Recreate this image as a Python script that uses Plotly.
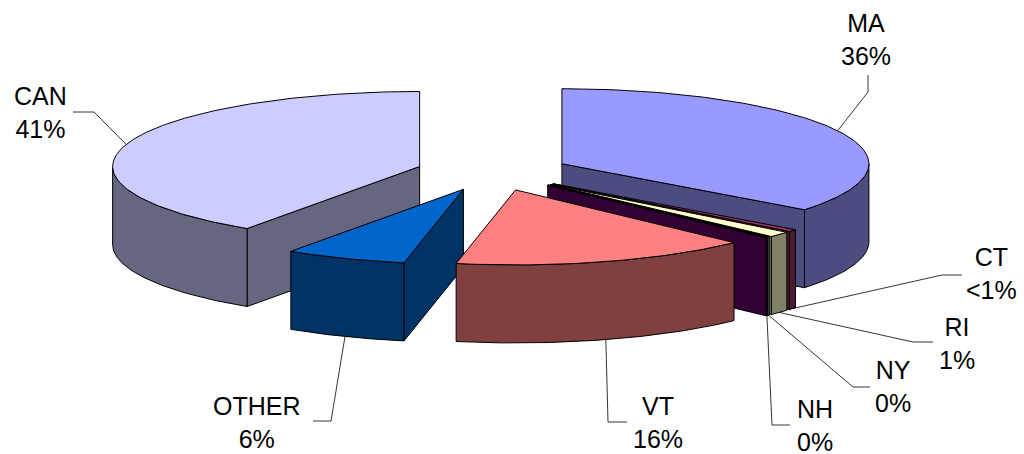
import numpy as np
import plotly.graph_objects as go

# slice data, clockwise from 12 o'clock
states = ['MA', 'CT', 'RI', 'NY', 'NH', 'VT', 'OTHER', 'CAN']
shares = [35.5, 0.5, 1.2, 0.1, 0.1, 15.7, 6.4, 40.5]
pct_labels = ['36%', '<1%', '1%', '0%', '0%', '16%', '6%', '41%']
top_colors = ['#9999FF', '#993366', '#FFFFCC', '#CCFFFF', '#660066', '#FF8080', '#0066CC', '#CCCCFF']

# 3d pie geometry (pixels)
cx, cy = 493, 172
rx, ry = 307, 75
depth = 78
pull = 0.25

# label text centres and the first two points of each leader line
label_xy = {
    'MA': (866, 39), 'CT': (991, 273), 'RI': (957, 343), 'NY': (893, 386),
    'NH': (815, 425), 'VT': (658, 422), 'OTHER': (257, 422), 'CAN': (40, 112),
}
leader_pts = {
    'MA': [(868, 75), (868, 92)], 'CT': [(962, 275), (942, 275)],
    'RI': [(933, 342), (913, 342)], 'NY': [(870, 387), (853, 387)],
    'NH': [(790, 425), (772, 425)], 'VT': [(627, 422), (608, 422)],
    'OTHER': [(313, 421), (331, 421)], 'CAN': [(73, 112), (94, 112)],
}


def darker(c):
    r, g, b = int(c[1:3], 16), int(c[3:5], 16), int(c[5:7], 16)
    return 'rgb(%d,%d,%d)' % (round(r / 2), round(g / 2), round(b / 2))


def rim(ox, oy, t, down=0):
    t = np.radians(t)
    return ox + rx * np.sin(t), oy - ry * np.cos(t) + down


total = sum(shares)
ends = np.cumsum(shares) / total * 360
starts = np.concatenate([[0], ends[:-1]])

sides = []
tops = []
anchors = []
for i, name in enumerate(states):
    a0, a1 = starts[i], ends[i]
    m = (a0 + a1) / 2
    ox = cx + pull * rx * np.sin(np.radians(m))
    oy = cy - pull * ry * np.cos(np.radians(m))
    vo = pull * np.cos(np.radians(m))
    side_col = darker(top_colors[i])

    # outer wall, front half only
    t0, t1 = max(a0, 90), min(a1, 270)
    if t1 > t0:
        ts = np.linspace(t0, t1, max(int(t1 - t0) + 2, 3))
        xt, yt = rim(ox, oy, ts)
        xb, yb = rim(ox, oy, ts[::-1], depth)
        sides.append((vo + np.cos(np.radians(ts)).mean(),
                      np.concatenate([xt, xb, xt[:1]]), np.concatenate([yt, yb, yt[:1]]), side_col))

    # radial faces
    for a, vis in ((a0, np.sin(np.radians(a0)) < -1e-6), (a1, np.sin(np.radians(a1)) > 1e-6)):
        if vis:
            xr, yr = rim(ox, oy, a)
            sides.append((vo + 0.5 * np.cos(np.radians(a)),
                          [ox, xr, xr, ox, ox], [oy, yr, yr + depth, oy + depth, oy], side_col))

    # top face
    ts = np.linspace(a0, a1, max(int(a1 - a0) + 2, 3))
    xt, yt = rim(ox, oy, ts)
    tops.append((name, np.concatenate([[ox], xt, [ox]]), np.concatenate([[oy], yt, [oy]]), top_colors[i]))

    # leader anchor on the rim at the middle of the slice
    if np.cos(np.radians(m)) > 0:
        anchors.append(rim(ox, oy, m))
    else:
        anchors.append(rim(ox, oy, m, depth))

fig = go.Figure()

for key, xs, ys, col in sorted(sides, key=lambda s: -s[0]):
    fig.add_trace(go.Scatter(x=xs, y=ys, mode='lines', fill='toself', fillcolor=col,
                             line=dict(color='black', width=1), hoverinfo='skip', showlegend=False))

for i, (name, xs, ys, col) in enumerate(tops):
    fig.add_trace(go.Scatter(x=xs, y=ys, mode='lines', fill='toself', fillcolor=col,
                             line=dict(color='black', width=1), name=name,
                             hoveron='fills', text=name + ' ' + pct_labels[i],
                             hoverinfo='text', showlegend=False))

# leader lines and labels
for i, name in enumerate(states):
    p1, p2 = leader_pts[name]
    ax, ay = anchors[i]
    fig.add_trace(go.Scatter(x=[p1[0], p2[0], ax], y=[p1[1], p2[1], ay], mode='lines',
                             line=dict(color='black', width=0.8), hoverinfo='skip', showlegend=False))
    lx, ly = label_xy[name]
    fig.add_annotation(x=lx, y=ly, text=name + '<br>' + pct_labels[i], showarrow=False,
                       xanchor='center', yanchor='middle',
                       font=dict(family='Liberation Sans, Arial', size=25, color='black'))

fig.update_xaxes(range=[0, 1024], visible=False, fixedrange=True)
fig.update_yaxes(range=[454, 0], visible=False, fixedrange=True)
fig.update_layout(width=1024, height=454, margin=dict(l=0, r=0, t=0, b=0),
                  plot_bgcolor='white', paper_bgcolor='white')

# the page body has a default 8px margin; drop it so the figure fills the window
fig.write_html("out.html", config={'displayModeBar': False},
               post_script="document.body.style.margin='0';")
